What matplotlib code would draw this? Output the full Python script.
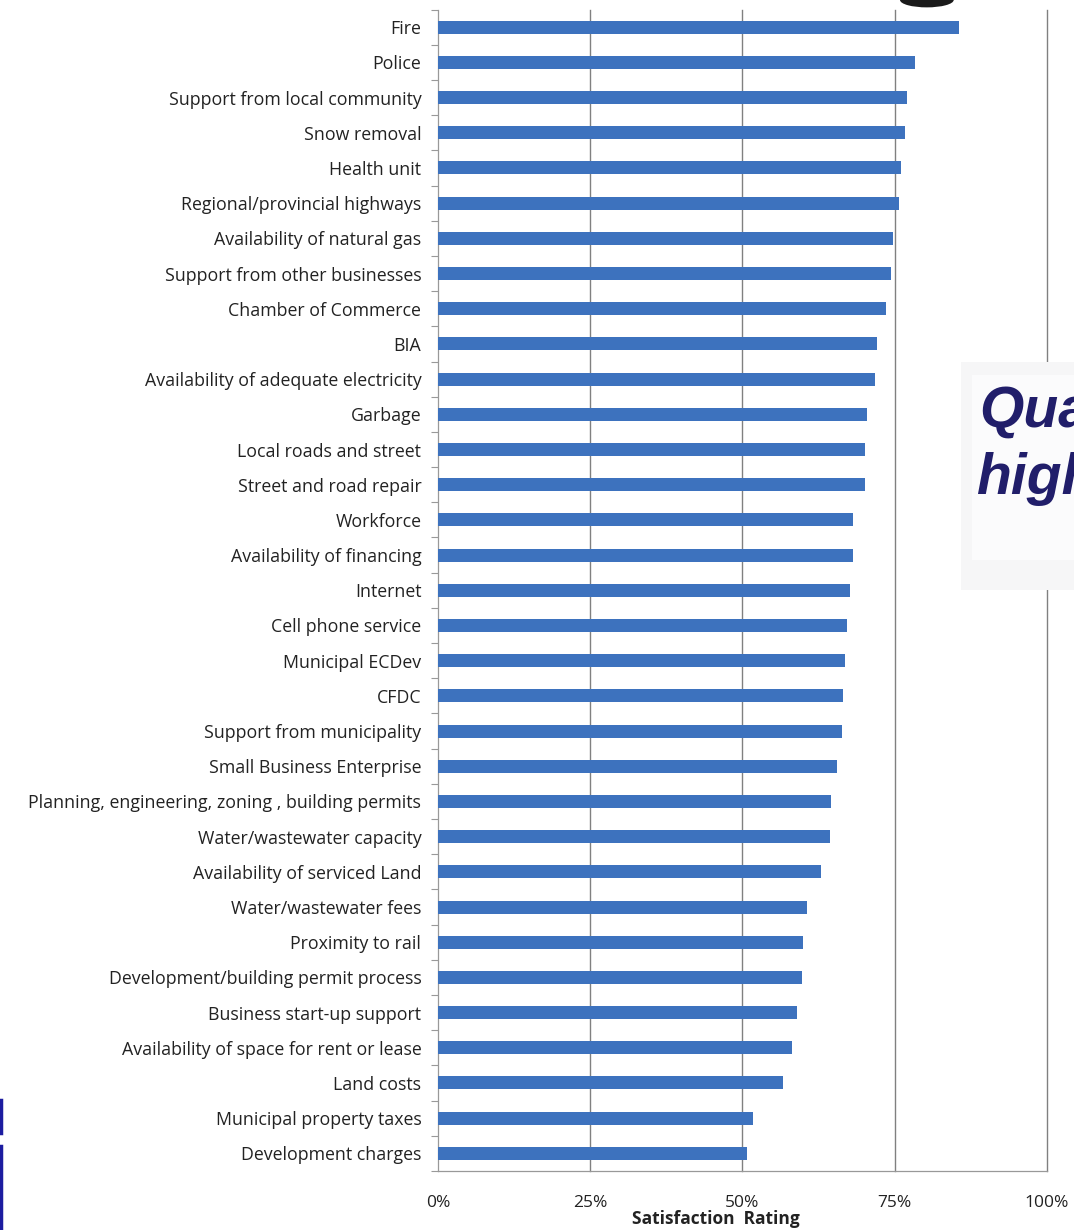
import matplotlib.pyplot as plt
from matplotlib.patches import Rectangle, Ellipse
from matplotlib.ticker import PercentFormatter, FixedLocator

categories = [
    "Fire",
    "Police",
    "Support from local community",
    "Snow removal",
    "Health unit",
    "Regional/provincial highways",
    "Availability of natural gas",
    "Support from other businesses",
    "Chamber of Commerce",
    "BIA",
    "Availability of adequate electricity",
    "Garbage",
    "Local roads and street",
    "Street and road repair",
    "Workforce",
    "Availability of financing",
    "Internet",
    "Cell phone service",
    "Municipal ECDev",
    "CFDC",
    "Support from municipality",
    "Small Business Enterprise",
    "Planning, engineering, zoning , building permits",
    "Water/wastewater capacity",
    "Availability of serviced Land",
    "Water/wastewater fees",
    "Proximity to rail",
    "Development/building permit process",
    "Business start-up support",
    "Availability of space for rent or lease",
    "Land costs",
    "Municipal property taxes",
    "Development charges",
]

satisfaction = [
    85.5, 78.3, 77.0, 76.7, 76.0, 75.7, 74.7, 74.4, 73.6, 72.1, 71.8,
    70.4, 70.1, 70.1, 68.1, 68.1, 67.7, 67.2, 66.8, 66.5, 66.3, 65.5,
    64.5, 64.4, 62.9, 60.6, 59.9, 59.8, 58.9, 58.1, 56.7, 51.7, 50.7,
]

x_ticks = [0, 25, 50, 75, 100]

bar_color = "#3D72BE"
grid_color = "#808080"

plt.rcParams["font.family"] = ["Open Sans", "DejaVu Sans"]

fig = plt.figure(figsize=(10.74, 12.3), dpi=100)
ax = fig.add_axes([0.4078, 0.048, 0.567, 0.9442])

pos = list(range(len(categories)))
ax.barh(pos, satisfaction, height=0.37, color=bar_color, zorder=3)

ax.set_ylim(len(categories) - 0.5, -0.5)
ax.set_xlim(0, 100)

ax.set_yticks(pos)
ax.set_yticklabels(categories, fontsize=12.8, color="#222222")
ax.tick_params(axis="y", which="major", length=0, pad=12)
ax.yaxis.set_minor_locator(FixedLocator([p + 0.5 for p in range(-1, len(categories))]))
ax.tick_params(axis="y", which="minor", length=5, color="#999999", width=0.8)

ax.set_xticks(x_ticks)
ax.xaxis.set_major_formatter(PercentFormatter(decimals=0))
ax.tick_params(axis="x", length=0, pad=17, labelsize=12.5, labelcolor="#222222")

# vertical gridlines, unclipped so the 100% line is drawn in full
for t in x_ticks[1:]:
    ax.axvline(t, color=grid_color, linewidth=1.0, zorder=0, clip_on=False)

for side in ["top", "right"]:
    ax.spines[side].set_visible(False)
for side in ["left", "bottom"]:
    ax.spines[side].set_color("#999999")
    ax.spines[side].set_linewidth(0.9)

fig.text(0.667, 0.0015, "Satisfaction  Rating", fontsize=12.5, fontweight="bold",
         color="#222222", ha="center", va="bottom")

# slide overlay: text box over the right edge of the chart
fig.patches.append(Rectangle((0.895, 0.52), 0.11, 0.186, transform=fig.transFigure,
                             facecolor="#F6F6F7", edgecolor="none", zorder=5))
fig.patches.append(Rectangle((0.905, 0.545), 0.1, 0.15, transform=fig.transFigure,
                             facecolor="#FBFBFC", edgecolor="none", zorder=5))
fig.text(0.912, 0.653, "Qua", fontsize=41, fontweight="bold", fontstyle="italic",
         family="Liberation Sans", color="#211E6A", ha="left", va="baseline", zorder=6)
fig.text(0.909, 0.598, "high", fontsize=41, fontweight="bold", fontstyle="italic",
         family="Liberation Sans", color="#211E6A", ha="left", va="baseline", zorder=6)

# slide leftovers at the edges
fig.patches.append(Ellipse((0.863, 1.0), 0.05, 0.012, transform=fig.transFigure,
                           facecolor="#1A1A1A", edgecolor="none", zorder=5))
fig.lines.append(plt.Line2D([0.001, 0.001], [0.079, 0.106], transform=fig.transFigure,
                            color="#1C1CA0", linewidth=2.5))
fig.lines.append(plt.Line2D([0.001, 0.001], [0.0, 0.068], transform=fig.transFigure,
                            color="#1C1CA0", linewidth=2.5))

fig.savefig("out.png", dpi=100)
